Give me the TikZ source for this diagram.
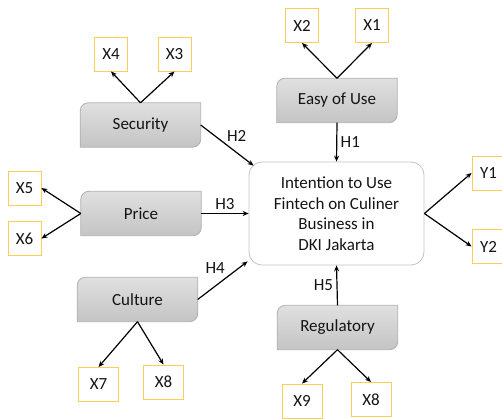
\documentclass[tikz,border=0pt]{standalone}
\usepackage{fontspec}
\setmainfont{Carlito}
\usetikzlibrary{arrows.meta,backgrounds}
\definecolor{txtgray}{RGB}{20,20,20}
\definecolor{boxline}{RGB}{175,175,175}
\definecolor{boxtop}{RGB}{224,224,224}
\definecolor{boxbot}{RGB}{196,196,196}
\definecolor{itemline}{RGB}{252,205,90}
\definecolor{mainline}{RGB}{195,195,195}
\tikzset{
    factor/.style={minimum width=120pt, minimum height=44pt, inner sep=0pt},
    item/.style={draw=itemline, line width=0.9pt, fill=white, minimum width=33pt, minimum height=34pt, inner sep=0pt},
    wideitem/.style={item, minimum width=40pt},
    link/.style={line width=1.2pt, -{Stealth[length=6pt,width=5pt]}}
}
\begin{document}
\begin{tikzpicture}[x=1pt, y=1pt, font=\fontsize{17}{20.5}\selectfont, text=txtgray]
    \useasboundingbox (0,0) rectangle (502,419);

    \node[factor] (sec) at (140.5, 294) {Security};
    \node[factor] (eou) at (337, 318.5) {Easy of Use};
    \node[factor] (pri) at (141, 205.5) {Price};
    \node[factor] (cul) at (137.5, 119.5) {Culture};
    \node[factor] (reg) at (337.5, 91.5) {Regulatory};
    \node[draw=mainline, line width=0.8pt, rounded corners=13pt, minimum width=175pt, minimum height=103pt, align=center] (ctr) at (336.5, 205.5)
        {Intention to Use\\Fintech on Culiner\\Business in\\DKI Jakarta};

    % shaded boxes behind the factor labels
    \begin{scope}[on background layer]
        \foreach \n in {sec,eou,pri,cul,reg}
            \draw[boxline, line width=0.8pt, top color=boxtop, bottom color=boxbot]
                (\n.north east) -- ([xshift=8pt]\n.north west) arc[start angle=90, end angle=180, radius=8pt]
                -- (\n.south west) -- ([xshift=-8pt]\n.south east) arc[start angle=270, end angle=360, radius=8pt] -- cycle;
    \end{scope}

    \node[item] (x4) at (111, 365) {X4};
    \node[item] (x3) at (174.5, 365) {X3};
    \node[item] (x2) at (302, 393.5) {X2};
    \node[item] (x1) at (372, 393.5) {X1};
    \node[item] (x5) at (24.5, 231) {X5};
    \node[item] (x6) at (24.5, 180.5) {X6};
    \node[item] (y1) at (488.5, 246) {Y1};
    \node[item] (y2) at (488.5, 172.5) {Y2};
    \node[wideitem] (x7) at (98.5, 34.5) {X7};
    \node[wideitem] (x8a) at (163.5, 37) {X8};
    \node[wideitem] (x9) at (302, 18) {X9};
    \node[wideitem] (x8b) at (371, 19.5) {X8};

    \draw[link] (sec.north) -- (x4.south);
    \draw[link] (sec.north) -- (x3.south);
    \draw[link] (eou.north) -- (x2.south);
    \draw[link] (eou.north) -- (x1.south);
    \draw[link] (pri.west) -- (x5.east);
    \draw[link] (pri.west) -- (x6.east);
    \draw[link] (ctr.east) -- (y1.west);
    \draw[link] (ctr.east) -- (y2.west);
    \draw[link] (cul.south) -- (x7.north);
    \draw[link] (cul.south) -- (x8a.north);
    \draw[link] (reg.south) -- (x9.north);
    \draw[link] (reg.south) -- (x8b.north);

    \draw[link] (eou.south) -- (ctr.north) node [midway, right] {H1};
    \draw[link] (sec.east) -- ([xshift=5pt,yshift=-4pt]ctr.north west) node [midway, above right, xshift=-4pt] {H2};
    \draw[link] (pri.east) -- (ctr.west) node [midway, above] {H3};
    \draw[link] (cul.east) -- ([xshift=-1pt,yshift=4pt]ctr.south west) node [midway, above left, xshift=6pt, yshift=3pt] {H4};
    \draw[link] (reg.north) -- (ctr.south) node [midway, left] {H5};
\end{tikzpicture}
\end{document}
